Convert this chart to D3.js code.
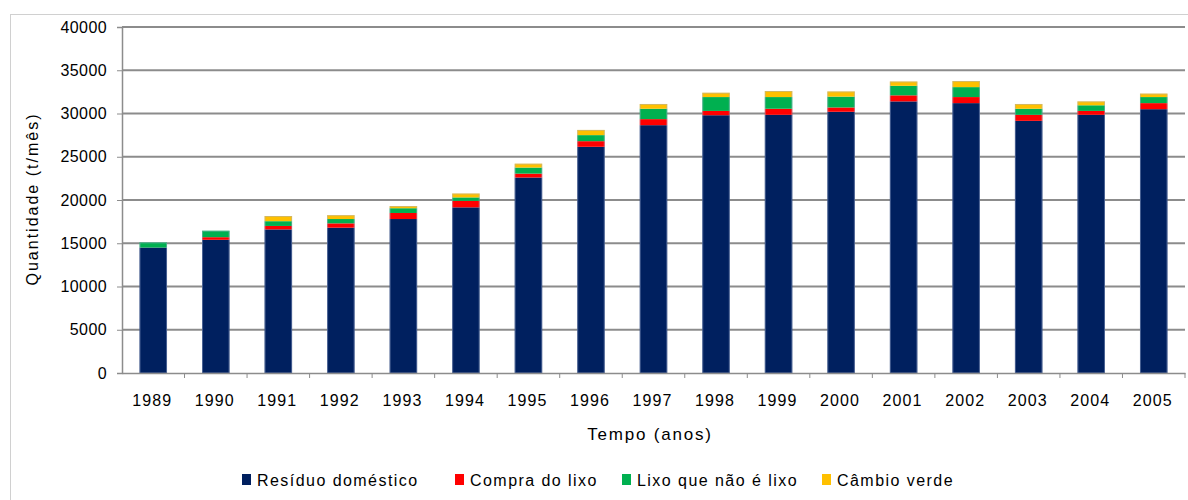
<html>
<head>
<script src="https://d3js.org/d3.v7.min.js"></script>
<style>
  body { margin: 0; background: #fff; }
  text { font-family: "Liberation Sans", Arial, sans-serif; fill: #000; }
</style>
</head>
<body></body>
<script>
const years = ['1989','1990','1991','1992','1993','1994','1995','1996','1997','1998','1999','2000','2001','2002','2003','2004','2005'];
const residuo = [14500, 15400, 16600, 16800, 17800, 19150, 22600, 26150, 28650, 29800, 29850, 30200, 31400, 31200, 29150, 29850, 30500];
const compra  = [0, 300, 400, 500, 700, 750, 450, 650, 700, 500, 700, 500, 700, 700, 700, 450, 700];
const lixo    = [600, 750, 550, 500, 550, 400, 700, 700, 1200, 1600, 1350, 1250, 1100, 1150, 700, 650, 700];
const cambio  = [0, 0, 600, 450, 250, 450, 450, 600, 550, 500, 700, 600, 500, 700, 550, 450, 400];
const seriesNames = ['Resíduo doméstico', 'Compra do lixo', 'Lixo que não é lixo', 'Câmbio verde'];
const colors = ['#00205f', '#ff0000', '#00b050', '#ffc000'];
const yTicks = [0, 5000, 10000, 15000, 20000, 25000, 30000, 35000, 40000];

const W = 1188, H = 500;
const mLeft = 122, mRight = 1185, mTop = 27, mBottom = 373;

const rows = years.map((y, i) => ({year: y, s0: residuo[i], s1: compra[i], s2: lixo[i], s3: cambio[i]}));
const stack = d3.stack().keys(['s0','s1','s2','s3'])(rows);

const svg = d3.select('body').append('svg')
  .attr('width', W).attr('height', H);

// frame
svg.append('rect')
  .attr('x', 10.5).attr('y', 14.5)
  .attr('width', W + 10).attr('height', H)
  .attr('fill', 'none').attr('stroke', '#d0d0d0');

const x = d3.scaleBand().domain(years).range([mLeft, mRight]).paddingInner(0.56).paddingOuter(0.28);
const xb = d3.scaleBand().domain(years).range([mLeft, mRight]);
const y = d3.scaleLinear().domain([0, 40000]).range([mBottom, mTop]);

// grid
svg.append('g')
  .selectAll('line')
  .data(yTicks.slice(1))
  .enter().append('line')
    .attr('x1', mLeft).attr('x2', mRight)
    .attr('y1', d => y(d)).attr('y2', d => y(d))
    .attr('stroke', '#8c8c8c').attr('stroke-width', 2);

// bars
svg.append('g')
  .selectAll('g')
  .data(stack)
  .enter().append('g')
    .attr('fill', (d, i) => colors[i])
  .selectAll('rect')
    .data(d => d)
  .enter().append('rect')
    .attr('x', d => x(d.data.year))
    .attr('width', x.bandwidth())
    .attr('y', d => y(d[1]))
    .attr('height', d => y(d[0]) - y(d[1]));

// light edge on the bars
svg.append('g')
  .selectAll('rect')
  .data(rows)
  .enter().append('rect')
    .attr('x', d => x(d.year) + 0.5)
    .attr('width', x.bandwidth() - 1)
    .attr('y', d => y(d.s0 + d.s1 + d.s2 + d.s3) + 0.5)
    .attr('height', d => mBottom - y(d.s0 + d.s1 + d.s2 + d.s3) - 0.5)
    .attr('fill', 'none')
    .attr('stroke', '#9fb0d0').attr('stroke-opacity', 0.45);

// y axis
const yAxis = svg.append('g')
  .attr('transform', `translate(${mLeft},0)`)
  .call(d3.axisLeft(y).tickValues(yTicks).tickSize(5).tickPadding(10).tickFormat(d3.format('d')));
yAxis.selectAll('text').attr('font-size', 16).attr('letter-spacing', 0.4);

// x axis
const xAxis = svg.append('g')
  .attr('transform', `translate(0,${mBottom})`)
  .call(d3.axisBottom(xb).tickSize(0).tickPadding(22));
xAxis.selectAll('text').attr('font-size', 16).attr('letter-spacing', 1.1).attr('dx', -1);
xAxis.append('g')
  .selectAll('line')
  .data(years)
  .enter().append('line')
    .attr('x1', d => xb(d) + xb.bandwidth())
    .attr('x2', d => xb(d) + xb.bandwidth())
    .attr('y1', 0).attr('y2', 5)
    .attr('stroke', '#8c8c8c');
svg.selectAll('.domain').attr('stroke', '#8c8c8c').attr('stroke-width', 1.5);
svg.selectAll('.tick line').attr('stroke', '#8c8c8c');

// titles
svg.append('text')
  .attr('transform', 'translate(38,199) rotate(-90)')
  .attr('text-anchor', 'middle')
  .attr('font-size', 16).attr('letter-spacing', 2)
  .text('Quantidade (t/mês)');

svg.append('text')
  .attr('x', 650).attr('y', 440)
  .attr('text-anchor', 'middle')
  .attr('font-size', 17).attr('letter-spacing', 1.8)
  .text('Tempo (anos)');

// legend
const legendX = [242, 455, 622, 822];
const legend = svg.append('g')
  .selectAll('g')
  .data(seriesNames)
  .enter().append('g')
    .attr('transform', (d, i) => `translate(${legendX[i]},474)`);
legend.append('rect')
  .attr('width', 9).attr('height', 11)
  .attr('fill', (d, i) => colors[i]);
legend.append('text')
  .attr('x', 15).attr('y', 12)
  .attr('font-size', 16).attr('letter-spacing', 1.45)
  .text(d => d);
</script>
</html>
